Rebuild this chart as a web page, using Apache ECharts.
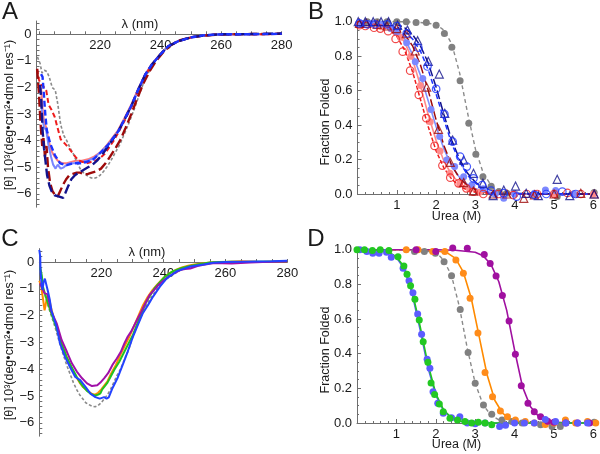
<!DOCTYPE html>
<html><head><meta charset="utf-8">
<script src="https://cdn.jsdelivr.net/npm/echarts@6/dist/echarts.min.js"></script>
<style>html,body{margin:0;padding:0;background:#fff}#c{width:600px;height:454px}</style>
</head><body><div id="c"></div>
<script>
// ---------- Panel A: CD spectra (nm, 10^3 deg cm2 dmol-1 res-1) ----------
const specA_gray = [[199.3,-0.85],[200.2,-1.1],[200.8,-1.45],[201.6,-1.35],[202.4,-1.4],[203.2,-1.6],[204.2,-2.0],[205.2,-2.1],[206,-2.6],[207,-3.4],[208,-3.8],[209,-4.0],[210.2,-4.3],[211.2,-4.5],[212.3,-4.8],[213.4,-5.05],[214.5,-5.2],[215.6,-5.3],[216.7,-5.38],[217.8,-5.42],[218.9,-5.38],[220,-5.3],[221.2,-5.15],[222.5,-4.95],[223.8,-4.7],[225,-4.45],[226.5,-4.15],[228,-3.75],[229.3,-3.4],[230.5,-3.05],[231.8,-2.65],[233,-2.25],[234.3,-1.85],[235.7,-1.5],[237.2,-1.2],[238.8,-0.9],[240.5,-0.65],[242.5,-0.45],[245,-0.28],[248,-0.17],[251,-0.1],[254,-0.05],[257,-0.02],[260,0],[265,0.01],[270,0],[275,0.01],[280,0.02]];
const specA_red = [[199.2,-1.3],[199.8,-1.7],[200.5,-1.9],[201.2,-1.95],[202.2,-2.1],[203,-2.65],[204,-2.85],[205,-3.1],[205.8,-3.45],[207,-3.95],[208.3,-4.1],[209.5,-4.25],[210.5,-4.4],[211.8,-4.6],[213,-4.75],[214.3,-4.8],[215.5,-4.85],[217,-4.8],[218.5,-4.75],[220,-4.65],[221.5,-4.5],[223,-4.25],[224.5,-4.0],[226,-3.7],[228.3,-3.2],[230.5,-2.7],[232.6,-2.1],[234.9,-1.55],[237.1,-1.15],[239.8,-0.77],[242.5,-0.45],[245.8,-0.26],[250.3,-0.11],[254,-0.05],[258,-0.01],[262,0],[268,0.01],[274,0],[280,0.02]];
const specA_darkred = [[199.2,-1.3],[199.8,-2.2],[200.3,-3.3],[200.9,-4.2],[201.3,-3.9],[201.8,-4.6],[202.3,-4.2],[202.8,-5.0],[203.5,-5.6],[204.3,-5.9],[205.2,-6.05],[206,-6.1],[206.8,-5.9],[207.8,-5.65],[208.8,-5.45],[209.8,-5.3],[211,-5.25],[212.3,-5.2],[213.5,-5.2],[214.8,-5.28],[216,-5.25],[217.3,-5.2],[218.8,-5.15],[220.3,-5.05],[221.8,-4.85],[223.3,-4.6],[225,-4.3],[226.8,-3.95],[228.5,-3.5],[230.3,-3.0],[232.3,-2.4],[234.3,-1.85],[236.3,-1.4],[238.5,-1.0],[241,-0.65],[243.5,-0.4],[246.5,-0.22],[250,-0.11],[254,-0.05],[258,-0.02],[262,0],[270,0.01],[280,0.02]];
const specA_navy = [[200.2,-1.9],[200.6,-2.5],[201,-3.6],[201.5,-4.3],[202,-4.8],[202.5,-5.3],[203.3,-5.7],[204,-5.9],[205,-6.05],[206.5,-6.1],[207.8,-6.15],[208.6,-5.95],[209.5,-5.7],[210.5,-5.45],[211.7,-5.3],[213,-5.2],[214.5,-5.1],[216,-5.0],[217.5,-4.9],[219,-4.75],[220.5,-4.55],[222.7,-4.2],[224.5,-3.9],[226,-3.65],[228.3,-3.15],[230.5,-2.65],[232.6,-2.08],[234.9,-1.52],[237.1,-1.14],[239.8,-0.77],[242.5,-0.45],[245.8,-0.26],[250.3,-0.11],[253.6,-0.06],[257,-0.02],[260,0],[265,0.0],[270,0.01],[275,0.02],[280,0.03]];
const specA_blue = [[200.5,-1.5],[201,-1.6],[201.4,-2.2],[201.9,-3.0],[202.4,-3.6],[203.5,-4.1],[205.1,-4.55],[206.8,-4.85],[209,-4.92],[211.2,-4.85],[213.4,-4.85],[215.6,-4.8],[217.8,-4.7],[219.4,-4.53],[221,-4.35],[222.7,-4.15],[224.3,-3.9],[226,-3.65],[228.3,-3.15],[230.5,-2.65],[232.6,-2.08],[234.9,-1.52],[237.1,-1.14],[239.8,-0.77],[242.5,-0.45],[245.8,-0.26],[250.3,-0.11],[254,-0.04],[258,-0.01],[262,0],[270,0],[280,0.02]];
const specA_salmon = [[200.5,-2.0],[201,-2.8],[201.5,-3.3],[202.2,-3.5],[203,-4.0],[204,-4.4],[205,-4.6],[206,-4.75],[207.5,-4.85],[209,-4.85],[210.5,-4.8],[212,-4.75],[214,-4.75],[216,-4.7],[218,-4.6],[220,-4.45],[222,-4.2],[224,-3.9],[226,-3.6],[228.3,-3.1],[230.5,-2.6],[232.6,-2.05],[234.9,-1.5],[237.1,-1.12],[239.8,-0.76],[242.5,-0.45],[245.8,-0.26],[250.3,-0.11],[254,-0.05],[258,-0.02],[262,0],[270,0],[280,0.01]];
const specA_lightblue = [[200.5,-2.5],[201,-3.2],[201.5,-3.5],[202.2,-3.6],[203,-4.2],[203.8,-4.6],[204.5,-4.9],[205.3,-5.05],[206,-4.9],[207,-5.05],[208,-5.0],[209,-4.9],[210,-4.85],[211.5,-4.85],[213,-4.8],[214.5,-4.78],[216,-4.75],[218,-4.65],[220,-4.45],[222.7,-4.15],[226,-3.65],[228.3,-3.15],[230.5,-2.65],[232.6,-2.08],[234.9,-1.52],[237.1,-1.14],[239.8,-0.77],[242.5,-0.45],[245.8,-0.26],[250.3,-0.11],[254,-0.05],[258,-0.01],[262,0.01],[270,0],[280,0.02]];

// ---------- Panel C: CD spectra ----------
const specC_gray = [[200.3,-0.3],[201,-0.9],[202,-1.3],[203,-1.7],[204,-2.05],[205,-2.4],[206,-2.8],[207,-3.2],[208,-3.55],[209,-3.9],[210,-4.2],[211,-4.5],[212,-4.75],[213,-4.95],[214,-5.1],[215,-5.25],[216,-5.32],[217,-5.38],[218,-5.4],[219,-5.35],[220,-5.25],[221,-5.1],[222,-4.95],[223,-4.75],[224,-4.5],[225,-4.25],[226.3,-3.97],[227.6,-3.6],[229,-3.22],[230,-2.85],[231.2,-2.47],[232.6,-2.1],[234,-1.73],[235.3,-1.45],[236.7,-1.23],[238.3,-0.95],[240,-0.73],[242,-0.55],[243.8,-0.42],[246,-0.28],[248,-0.2],[250,-0.14],[252,-0.09],[254,-0.05],[256,-0.02],[258,0],[262,0],[266,0.01],[270,0],[275,0.01],[280,0.02]];
const specC_orange = [[200,-0.7],[200.6,-0.9],[201.1,-1.3],[201.7,-1.8],[202.2,-1.5],[202.7,-1.25],[203.3,-1.45],[204,-1.8],[205,-2.2],[206,-2.6],[207,-3.0],[208,-3.3],[209,-3.6],[210,-3.9],[211,-4.1],[212,-4.3],[213,-4.5],[214,-4.65],[215,-4.75],[216,-4.85],[217,-4.92],[218,-4.95],[219,-4.88],[220,-4.75],[221,-4.6],[222,-4.45],[223,-4.2],[224.7,-3.84],[226,-3.5],[227.5,-3.15],[229,-2.8],[230.5,-2.4],[232,-2.0],[233.5,-1.6],[235,-1.3],[236.5,-1.05],[238,-0.85],[240,-0.6],[242,-0.42],[244,-0.3],[246,-0.2],[248,-0.14],[250,-0.09],[253,-0.05],[256,-0.01],[260,0.0],[265,0.03],[270,0.01],[275,0.0],[280,0.02]];
const specC_green = [[200.3,-0.2],[200.8,-0.5],[201.2,-0.93],[202.3,-1.37],[203.9,-1.93],[205.6,-2.49],[207.2,-3.05],[208.8,-3.54],[210.4,-3.92],[212.1,-4.29],[213.2,-4.5],[214.2,-4.66],[215.3,-4.8],[216.5,-4.91],[217.4,-4.96],[218.1,-4.98],[219,-4.95],[219.7,-4.9],[220.3,-4.75],[221.2,-4.62],[222,-4.5],[223,-4.28],[224.3,-4.0],[225.8,-3.72],[228,-3.22],[230.2,-2.72],[232.3,-2.1],[234.5,-1.48],[237.2,-0.98],[240.5,-0.55],[243,-0.35],[246,-0.22],[249,-0.14],[252,-0.07],[255,-0.02],[258,0],[262,0.01],[266,0.0],[270,0.01],[275,0.02],[280,0.02]];
const specC_purple = [[200.2,-0.8],[200.7,-0.92],[201.7,-1.17],[202.6,-1.2],[203.9,-1.85],[205.6,-2.29],[207.2,-2.91],[208.9,-3.35],[210.5,-3.78],[212.1,-4.09],[213.8,-4.34],[215.4,-4.53],[217,-4.63],[218.7,-4.6],[219.7,-4.5],[220.9,-4.34],[222.2,-4.15],[223.6,-3.84],[225,-3.6],[226.3,-3.35],[227.4,-3.05],[228.5,-2.79],[229.6,-2.6],[230.7,-2.35],[231.8,-2.1],[232.9,-1.85],[234.2,-1.55],[235.6,-1.23],[237,-1.05],[238.4,-0.86],[240,-0.7],[241.6,-0.55],[243.5,-0.42],[245.4,-0.3],[247,-0.26],[248.7,-0.24],[251,-0.15],[253,-0.1],[256,-0.05],[259,-0.05],[262,-0.06],[265,-0.04],[268,-0.02],[272,0],[276,0.01],[280,0.02]];
const specC_blue = [[200.0,0.45],[200.3,0.2],[200.4,-0.36],[200.8,-0.9],[201.0,-1.04],[201.4,-0.75],[201.8,-0.62],[202.3,-0.65],[202.8,-1.1],[203.4,-1.42],[203.9,-1.8],[204.7,-2.1],[205.6,-2.43],[206.7,-3.05],[208.3,-3.54],[209.9,-3.92],[211.6,-4.29],[213.2,-4.41],[214.9,-4.66],[216.5,-4.91],[218.1,-5.04],[219.5,-5.1],[220.9,-5.04],[221.7,-5.1],[222.4,-5.05],[223.6,-4.71],[225.2,-4.34],[226.9,-3.84],[228.5,-3.35],[230.2,-2.79],[231.8,-2.35],[233.4,-1.91],[235.1,-1.6],[236.7,-1.29],[238.9,-0.92],[241.1,-0.61],[244.4,-0.34],[248.7,-0.17],[253.1,-0.09],[256,-0.03],[260,0.0],[265,0.01],[270,0.02],[275,0.03],[280,0.05]];

// ---------- Panel B: urea denaturation (M, fraction folded) ----------
const ptsB_gray = [[0.25,1.0],[0.5,1.0],[0.75,1.0],[1.0,1.0],[1.24,1.0],[1.49,0.995],[1.75,0.995],[2.0,0.98],[2.21,0.932],[2.4,0.851],[2.61,0.658],[2.83,0.41],[3.01,0.23],[3.19,0.1],[3.4,0.045],[3.6,0.015],[3.8,0.005],[4.0,0.0],[4.5,-0.006],[5.08,-0.015],[5.5,0.0],[6.02,0.008]];
const ptsB_red = [[0.05,0.98],[0.2,0.975],[0.42,0.965],[0.58,0.96],[0.78,0.945],[0.97,0.9],[1.15,0.826],[1.34,0.716],[1.56,0.575],[1.75,0.44],[1.96,0.279],[2.16,0.165],[2.36,0.095],[2.57,0.062],[2.77,0.033],[2.95,0.013],[3.2,0.0],[3.59,0.0],[3.96,-0.006],[4.3,0.0],[4.57,0.0],[5.0,0.0],[5.34,0.006],[5.68,0.0]];
const ptsB_salmon = [[0.1,0.99],[0.35,0.985],[0.6,0.97],[0.85,0.96],[1.1,0.91],[1.35,0.8],[1.6,0.63],[1.85,0.42],[2.1,0.25],[2.35,0.12],[2.6,0.06],[2.85,0.03],[3.1,0.01],[3.5,0.0],[4.0,0.0],[4.5,0.0],[5.0,0.0],[5.5,0.0],[6.0,0.0]];
const ptsB_lightblue = [[0.1,0.99],[0.35,0.99],[0.6,0.985],[0.85,0.96],[1.0,0.94],[1.25,0.878],[1.47,0.768],[1.66,0.671],[1.87,0.491],[2.09,0.333],[2.27,0.197],[2.47,0.159],[2.7,0.1],[2.91,0.052],[3.2,0.03],[3.5,0.0],[3.72,-0.025],[4.0,0.0],[4.5,0.005],[4.78,0.023],[5.04,0.02],[5.5,0.0]];
const ptsB_darkred = [[0.05,0.99],[0.23,0.99],[0.5,0.985],[0.75,0.975],[1.0,0.96],[1.24,0.93],[1.47,0.83],[1.76,0.62],[2.06,0.375],[2.36,0.184],[2.7,0.066],[2.95,0.017],[3.45,0.0],[3.8,0.0],[4.23,-0.025],[4.5,-0.005],[5.0,0.0],[5.68,0.004],[6.02,0.0]];
const ptsB_navy = [[0.02,1.0],[0.2,1.0],[0.4,1.0],[0.6,1.0],[0.79,1.0],[1.02,0.98],[1.27,0.952],[1.53,0.89],[1.8,0.77],[2.08,0.696],[2.22,0.468],[2.42,0.313],[2.7,0.197],[2.95,0.12],[3.19,0.062],[3.45,-0.01],[3.72,0.023],[4.02,0.046],[4.29,0.004],[4.6,-0.01],[5.08,0.085],[5.4,-0.01],[6.02,0.0]];
const ptsB_blue = [[0.05,0.99],[0.25,0.985],[0.45,0.985],[0.75,0.985],[1.0,0.975],[1.25,0.932],[1.55,0.849],[1.78,0.74],[2.0,0.61],[2.21,0.464],[2.42,0.304],[2.61,0.217],[2.78,0.159],[2.95,0.091],[3.17,0.052],[3.4,0.02],[3.72,0.005],[4.05,-0.015],[4.5,-0.006],[4.8,0.0],[5.21,0.014],[5.55,0.0]];
const fitB_gray = [[0,1],[0.5,1],[1,1],[1.5,0.998],[2,0.985],[2.2,0.95],[2.4,0.87],[2.6,0.7],[2.8,0.47],[3,0.26],[3.2,0.12],[3.4,0.05],[3.6,0.02],[3.8,0.008],[4,0.003],[4.5,0],[5,0],[6,0]];
const fitB_red = [[0,0.985],[0.5,0.975],[0.8,0.955],[1.0,0.915],[1.2,0.835],[1.4,0.71],[1.6,0.55],[1.8,0.39],[2.0,0.25],[2.2,0.15],[2.4,0.085],[2.6,0.045],[2.8,0.022],[3.0,0.01],[3.4,0.002],[4,0],[6,0]];
const fitB_salmon = [[0,0.99],[0.5,0.985],[0.8,0.97],[1.0,0.94],[1.2,0.88],[1.4,0.78],[1.6,0.63],[1.8,0.46],[2.0,0.31],[2.2,0.19],[2.4,0.11],[2.6,0.06],[2.8,0.03],[3.0,0.015],[3.4,0.004],[4,0],[6,0]];
const fitB_lightblue = [[0,0.99],[0.5,0.985],[0.8,0.97],[1.0,0.95],[1.2,0.9],[1.4,0.81],[1.6,0.69],[1.8,0.54],[2.0,0.39],[2.2,0.26],[2.4,0.16],[2.6,0.095],[2.8,0.055],[3.0,0.03],[3.4,0.008],[4,0],[6,0]];
const fitB_darkred = [[0,0.99],[0.5,0.985],[0.8,0.975],[1.0,0.96],[1.2,0.925],[1.4,0.86],[1.6,0.75],[1.8,0.6],[2.0,0.43],[2.2,0.28],[2.4,0.165],[2.6,0.09],[2.8,0.048],[3.0,0.025],[3.4,0.006],[4,0.001],[6,0]];
const fitB_navy = [[0,1.0],[0.5,1.0],[0.8,0.995],[1.0,0.985],[1.2,0.965],[1.4,0.925],[1.6,0.86],[1.8,0.76],[2.0,0.62],[2.2,0.46],[2.4,0.31],[2.6,0.2],[2.8,0.12],[3.0,0.068],[3.2,0.037],[3.6,0.01],[4,0.003],[6,0]];
const fitB_blue = [[0,0.99],[0.5,0.988],[0.8,0.98],[1.0,0.97],[1.2,0.945],[1.4,0.9],[1.6,0.83],[1.8,0.72],[2.0,0.58],[2.2,0.43],[2.4,0.29],[2.6,0.185],[2.8,0.11],[3.0,0.063],[3.2,0.034],[3.6,0.009],[4,0.002],[6,0]];

// ---------- Panel D ----------
const ptsD_gray = [[1.46,0.99],[1.71,0.99],[1.99,0.98],[2.21,0.93],[2.4,0.85],[2.62,0.655],[2.82,0.407],[3.0,0.229],[3.21,0.104],[3.42,0.05],[3.68,0.017],[3.93,0.008],[4.19,0.0],[4.66,-0.01],[4.95,-0.02],[5.16,-0.02],[6.02,0.005]];
const ptsD_orange = [[1.25,1.0],[1.55,1.0],[1.92,0.99],[2.23,0.99],[2.51,0.94],[2.70,0.864],[2.87,0.72],[3.07,0.52],[3.25,0.292],[3.44,0.152],[3.64,0.069],[3.82,0.036],[4.02,0.017],[4.27,0.008],[4.5,0.0],[4.78,-0.008],[5.0,0.0],[5.29,0.017],[5.55,0.0],[5.85,0.008],[6.06,0.0]];
const ptsD_purple = [[1.5,1.0],[2.0,0.99],[2.43,1.01],[2.8,1.008],[3.23,0.973],[3.38,0.92],[3.53,0.848],[3.69,0.735],[3.86,0.589],[4.02,0.396],[4.17,0.215],[4.34,0.114],[4.5,0.065],[4.66,0.036],[4.84,0.01],[5.0,0.005],[5.3,0.0],[5.6,0.0],[5.9,0.0]];
const ptsD_green = [[0.0,1.0],[0.19,1.0],[0.39,0.995],[0.59,1.0],[0.81,0.995],[1.04,0.96],[1.19,0.906],[1.27,0.858],[1.36,0.792],[1.47,0.714],[1.58,0.594],[1.68,0.469],[1.8,0.35],[1.88,0.231],[1.97,0.165],[2.09,0.11],[2.19,0.065],[2.36,0.027],[2.55,0.017],[2.74,0.008],[2.91,0.0],[3.08,0.005],[3.25,0.0],[3.42,-0.01]];
const ptsD_blue = [[0.07,1.0],[0.25,0.99],[0.40,0.98],[0.56,0.98],[0.75,0.985],[0.87,0.956],[1.17,0.893],[1.32,0.821],[1.42,0.752],[1.54,0.629],[1.64,0.512],[1.78,0.368],[1.85,0.316],[1.93,0.18],[2.05,0.114],[2.19,0.056],[2.4,0.03],[2.61,0.036],[2.8,0.0],[3.0,-0.005],[3.25,0.0],[3.62,-0.02],[3.77,-0.013],[4.0,0.0],[4.25,0.0],[4.5,0.0],[4.78,0.02],[5.04,0.008],[5.3,0.0],[5.6,0.0],[5.85,0.0]];
const fitD_gray = [[0,1],[1.5,0.998],[2.0,0.985],[2.2,0.94],[2.4,0.85],[2.6,0.67],[2.8,0.43],[3.0,0.23],[3.2,0.105],[3.4,0.045],[3.6,0.018],[3.8,0.007],[4.0,0.003],[4.5,0],[6,0]];
const fitD_orange = [[0,1],[1.5,1],[2.0,0.995],[2.3,0.98],[2.5,0.95],[2.7,0.87],[2.9,0.72],[3.1,0.5],[3.3,0.28],[3.5,0.13],[3.7,0.055],[3.9,0.022],[4.1,0.009],[4.4,0.002],[5,0],[6,0]];
const fitD_purple = [[0,1],[2.0,1],[2.5,0.997],[3.0,0.985],[3.2,0.965],[3.4,0.915],[3.6,0.815],[3.8,0.65],[4.0,0.42],[4.2,0.21],[4.4,0.095],[4.6,0.04],[4.8,0.015],[5.0,0.006],[5.3,0.001],[6,0]];
const fitD_green = [[0,1],[0.6,0.995],[0.8,0.985],[1.0,0.96],[1.2,0.9],[1.4,0.76],[1.6,0.56],[1.8,0.34],[2.0,0.17],[2.2,0.075],[2.4,0.03],[2.6,0.012],[2.8,0.005],[3.0,0.002],[3.5,0],[6,0]];
const fitD_blue = [[0,1],[0.6,0.995],[0.8,0.985],[1.0,0.955],[1.2,0.89],[1.4,0.745],[1.6,0.54],[1.8,0.32],[2.0,0.16],[2.2,0.07],[2.4,0.028],[2.6,0.011],[2.8,0.004],[3.0,0.001],[3.5,0],[6,0]];

// ---------- tick labels ----------
const nmLabels = [220, 240, 260, 280];
const nmTicks = [200,205,210,215,220,225,230,235,240,245,250,255,260,265,270,275,280];
const cdLabels = [-6,-5,-4,-3,-2,-1,0];
const cdTicks = [-6.4,-6.2,-6,-5.8,-5.6,-5.4,-5.2,-5,-4.8,-4.6,-4.4,-4.2,-4,-3.8,-3.6,-3.4,-3.2,-3,-2.8,-2.6,-2.4,-2.2,-2,-1.8,-1.6,-1.4,-1.2,-1,-0.8,-0.6,-0.4,-0.2,0,0.2,0.4];

const FONT = '"Liberation Sans", Arial, Helvetica, sans-serif';
const AX = '#6e6e6e', TX = '#1a1a1a';

function cdX(grid, min, off) {
  return {gridIndex:grid, type:'value', min:min, max:280, position:'bottom', offset:off,
    axisLine:{show:true, onZero:false, lineStyle:{color:AX, width:1}},
    axisTick:{show:true, inside:true, length:3, customValues:nmTicks, lineStyle:{color:AX}},
    axisLabel:{customValues:nmLabels, color:TX, fontSize:13, fontFamily:FONT, margin:5},
    splitLine:{show:false}};
}
function cdY(grid) {
  return {gridIndex:grid, type:'value', min:-6.5, max:0.5,
    axisLine:{show:true, onZero:false, lineStyle:{color:AX, width:1}},
    axisTick:{show:true, inside:true, length:3, customValues:cdTicks, lineStyle:{color:AX}},
    axisLabel:{customValues:cdLabels, color:TX, fontSize:13, fontFamily:FONT, margin:5,
      formatter:v => (v < 0 ? '\u2212' + Math.abs(v) : String(v))},
    splitLine:{show:false}};
}
function ureaX(grid) {
  return {gridIndex:grid, type:'value', min:0, max:6, interval:1,
    axisLine:{show:true, onZero:false, lineStyle:{color:AX, width:1}},
    axisTick:{show:true, inside:true, length:4, lineStyle:{color:AX}},
    minorTick:{show:true, splitNumber:5, length:2, lineStyle:{color:AX}},
    axisLabel:{color:TX, fontSize:13, fontFamily:FONT, margin:5, formatter:v => v === 0 ? '' : String(v)},
    splitLine:{show:false}};
}
function fracY(grid) {
  return {gridIndex:grid, type:'value', min:0, max:1, interval:0.2,
    axisLine:{show:true, onZero:false, lineStyle:{color:AX, width:1}},
    axisTick:{show:true, inside:true, length:4, lineStyle:{color:AX}},
    minorTick:{show:true, splitNumber:4, length:2, lineStyle:{color:AX}},
    axisLabel:{color:TX, fontSize:13, fontFamily:FONT, margin:5, formatter:v => v.toFixed(1)},
    splitLine:{show:false}};
}
function line(idx, data, color, width, dash, z) {
  return {type:'line', xAxisIndex:idx, yAxisIndex:idx, data:data, symbol:'none', showSymbol:false,
    clip:false, z:z || 2, lineStyle:{color:color, width:width, type:dash || 'solid'}, silent:true};
}
function dots(idx, data, color, opts) {
  opts = opts || {};
  return {type:'scatter', xAxisIndex:idx, yAxisIndex:idx, data:data, clip:false, z:opts.z || 3,
    symbol:opts.symbol || 'circle', symbolSize:opts.size || 7,
    itemStyle: opts.open ? {color:'rgba(255,255,255,0)', borderColor:color, borderWidth:1.2}
                         : {color:color, opacity:1}, silent:true};
}
function txt(x, y, s, size, rot) {
  return {type:'text', x:x, y:y, rotation:rot || 0, z:10,
    style:{text:s, x:0, y:0, font: size + 'px ' + FONT, fill:TX,
      align:'center', verticalAlign:'middle', textAlign:'center', textVerticalAlign:'middle'}};
}

const option = {
  animation:false,
  backgroundColor:'#ffffff',
  grid:[
    {left:36.5, top:21, width:245.2, height:186.2},
    {left:357.5, top:21.7, width:237, height:172.3},
    {left:39.3, top:248.6, width:248, height:187.6},
    {left:357, top:249.7, width:238, height:173.3}
  ],
  xAxis:[cdX(0,199,-172.9), ureaX(1), cdX(2,200,-174.2), ureaX(3)],
  yAxis:[cdY(0), fracY(1), cdY(2), fracY(3)],
  graphic:[
    txt(10, 12, 'A', 24), txt(316, 12, 'B', 24), txt(10, 239, 'C', 24), txt(316, 239, 'D', 24),
    txt(140, 24.5, 'λ (nm)', 13), txt(147, 252, 'λ (nm)', 13),
    txt(9.5, 115, '[θ] 10³(deg•cm²•dmol res⁻¹)', 12.5, Math.PI/2),
    txt(9.5, 345, '[θ] 10³(deg•cm²•dmol res⁻¹)', 12.5, Math.PI/2),
    txt(325.5, 122, 'Fraction Folded', 12.5, Math.PI/2),
    txt(325.5, 350, 'Fraction Folded', 12.5, Math.PI/2),
    txt(456.5, 217, 'Urea (M)', 12.5), txt(456.5, 445, 'Urea (M)', 12.5)
  ],
  series:[
    // A
    line(0, specA_salmon, '#ff7b7b', 2),
    line(0, specA_lightblue, '#7a86ff', 2),
    line(0, specA_gray, '#8a8a8a', 1.6, [3,2]),
    line(0, specA_red, '#ee1c1c', 2, [5,3]),
    line(0, specA_darkred, '#9e0b0b', 2.4, [10,4]),
    line(0, specA_navy, '#12128c', 2.4, [10,4]),
    line(0, specA_blue, '#1c33ff', 2.4, [6,3]),
    // B fits
    line(1, fitB_gray, '#8a8a8a', 1.4, [4,3]),
    line(1, fitB_salmon, '#ff8a8a', 1.6),
    line(1, fitB_lightblue, '#8090ff', 1.6),
    line(1, fitB_red, '#ee1c1c', 1.5, [4,2]),
    line(1, fitB_darkred, '#9e0b0b', 1.5, [9,3]),
    line(1, fitB_navy, '#12128c', 1.5, [9,3]),
    line(1, fitB_blue, '#1c33ff', 1.5, [5,3]),
    // B points
    dots(1, ptsB_gray, '#808080'),
    dots(1, ptsB_salmon, '#ff8c8c'),
    dots(1, ptsB_lightblue, '#7c88ff'),
    dots(1, ptsB_red, '#ee1c1c', {open:true, size:7.5}),
    dots(1, ptsB_darkred, '#9e0b0b', {open:true, symbol:'triangle', size:8}),
    dots(1, ptsB_navy, '#12128c', {open:true, symbol:'triangle', size:8}),
    dots(1, ptsB_blue, '#1c33ff', {open:true, size:7.5}),
    // C
    line(2, specC_gray, '#8a8a8a', 1.6, [3,2]),
    line(2, specC_orange, '#ff8a00', 2),
    line(2, specC_green, '#1fc41f', 2),
    line(2, specC_purple, '#a010a8', 2),
    line(2, specC_blue, '#2342ff', 2),
    // D fits
    line(3, fitD_gray, '#8a8a8a', 1.4, [4,3]),
    line(3, fitD_orange, '#ff8a00', 1.6),
    line(3, fitD_purple, '#a010a0', 1.6),
    line(3, fitD_blue, '#5c5cff', 1.6),
    line(3, fitD_green, '#1fc41f', 1.6),
    // D points
    dots(3, ptsD_gray, '#808080'),
    dots(3, ptsD_orange, '#ff8c1a'),
    dots(3, ptsD_purple, '#a010a0'),
    dots(3, ptsD_blue, '#5c5cff'),
    dots(3, ptsD_green, '#22c822')
  ]
};
const chart = echarts.init(document.getElementById('c'), null, {renderer:'canvas'});
chart.setOption(option);
</script></body></html>
